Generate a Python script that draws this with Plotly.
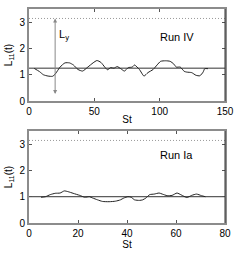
import plotly.graph_objects as go
from plotly.subplots import make_subplots

# Run IV (top panel)
st_iv = [4, 8, 11, 14.5, 18, 20, 23.75, 27.5, 31, 34, 37.5, 41, 45, 49, 52, 55, 58, 60, 62.5, 65, 67.5,
         70.5, 73, 76, 79, 80.75, 84.5, 88, 91, 95, 98, 100.75, 104.5, 108, 110.75, 112.75, 115.75,
         118.75, 120.75, 124.5, 127.75, 130.75, 133.25, 134.5, 137]
l_iv = [1.24, 1.12, 1.0, 0.95, 0.94, 1.02, 1.29, 1.45, 1.45, 1.37, 1.20, 1.14, 1.29, 1.45, 1.54, 1.47,
        1.29, 1.19, 1.27, 1.25, 1.31, 1.22, 1.14, 1.27, 1.29, 1.37, 1.20, 0.95, 1.08, 1.20, 1.37, 1.51,
        1.53, 1.51, 1.41, 1.29, 1.29, 1.13, 1.10, 1.08, 0.98, 0.96, 1.10, 1.23, 1.23]
mean_iv = 1.25

# Run Ia (bottom panel)
st_ia = [4.9, 6.7, 8.7, 10.7, 12.7, 14.4, 16, 18, 20.7, 22.7, 24.7, 26, 28, 30, 32.7, 35.3, 37.3,
         38.7, 40.4, 41.7, 43.1, 45.1, 46.4, 47.7, 49.3, 51.1, 53.1, 54.4, 56.4, 58.4, 60.4, 62.1,
         64.4, 66.4, 68.4, 70.4, 72]
l_ia = [0.98, 1.0, 1.08, 1.13, 1.14, 1.22, 1.19, 1.13, 1.05, 0.98, 1.0, 0.95, 0.88, 0.82, 0.81, 0.83,
        0.88, 0.95, 1.0, 0.98, 0.88, 0.86, 0.88, 0.95, 1.08, 1.10, 1.14, 1.10, 1.04, 1.05, 1.14, 1.07,
        0.97, 1.05, 1.10, 1.04, 1.0]
mean_ia = 1.0

pi_level = 3.14
x_ticks_iv = [0, 50, 100, 150]
x_ticks_ia = [0, 20, 40, 60, 80]
y_ticks = [0, 1, 2, 3]
ly_x = 20

FONT = "Liberation Sans, Arial, Helvetica, sans-serif"
frame = "#8c8c8c"
curve = "#222222"

fig = make_subplots(rows=2, cols=1, vertical_spacing=0.14)

fig.add_trace(go.Scatter(x=[0, 150], y=[pi_level, pi_level], mode="lines",
                         line=dict(color="#999999", width=1, dash="1px,2px")), row=1, col=1)
fig.add_trace(go.Scatter(x=[0, 150], y=[mean_iv, mean_iv], mode="lines",
                         line=dict(color="#333333", width=1)), row=1, col=1)
fig.add_trace(go.Scatter(x=st_iv, y=l_iv, mode="lines", line=dict(color=curve, width=1,
                         shape="spline", smoothing=0.6)), row=1, col=1)

fig.add_trace(go.Scatter(x=[0, 80], y=[pi_level, pi_level], mode="lines",
                         line=dict(color="#999999", width=1, dash="1px,2px")), row=2, col=1)
fig.add_trace(go.Scatter(x=[0, 80], y=[mean_ia, mean_ia], mode="lines",
                         line=dict(color="#333333", width=1)), row=2, col=1)
fig.add_trace(go.Scatter(x=st_ia, y=l_ia, mode="lines", line=dict(color=curve, width=1,
                         shape="spline", smoothing=0.6)), row=2, col=1)

axis_common = dict(showline=True, linecolor=frame, linewidth=2, mirror="ticks",
                   ticks="inside", ticklen=3, tickcolor="#555555", showgrid=False,
                   zeroline=False, tickfont=dict(family=FONT, size=10, color="black"))

fig.update_xaxes(range=[0, 150], tickvals=x_ticks_iv, row=1, col=1, **axis_common)
fig.update_xaxes(range=[0, 80], tickvals=x_ticks_ia, row=2, col=1, **axis_common)
for r in (1, 2):
    fig.update_xaxes(title=dict(text="St", standoff=0, font=dict(family=FONT, size=10, color="black")),
                     row=r, col=1)
    fig.update_yaxes(range=[0, 3.5], tickvals=y_ticks, row=r, col=1,
                     title=dict(text="L<sub>11</sub>(t)", standoff=5,
                                font=dict(family=FONT, size=10, color="black")),
                     **axis_common)

fig.update_layout(
    width=241, height=253,
    margin=dict(l=29, r=12, t=7, b=25),
    paper_bgcolor="white", plot_bgcolor="white",
    showlegend=False,
    font=dict(family=FONT, size=10, color="black"),
)
fig.layout.yaxis.domain = [0.57, 1.0]
fig.layout.yaxis2.domain = [0.0, 0.43]

# right border darker
for xr, yr in (("x domain", "y domain"), ("x2 domain", "y2 domain")):
    fig.add_shape(type="line", xref=xr, yref=yr, x0=1, x1=1, y0=0, y1=1,
                  line=dict(color="#333333", width=1))

# double-headed arrow L_y
fig.add_annotation(x=ly_x, y=pi_level, ax=ly_x, ay=0, xref="x", yref="y", axref="x", ayref="y",
                   showarrow=True, arrowhead=2, arrowside="end+start", arrowsize=0.8,
                   arrowwidth=1, arrowcolor="#888888", text=" ")
fig.add_annotation(x=21.5, y=2.5, xref="x", yref="y", text="L<sub>y</sub>", showarrow=False,
                   xanchor="left", font=dict(family=FONT, size=11, color="black"))
fig.add_annotation(x=113, y=2.45, xref="x", yref="y", text="Run IV", showarrow=False,
                   font=dict(family=FONT, size=11, color="black"))
fig.add_annotation(x=60.4, y=2.6, xref="x2", yref="y2", text="Run Ia", showarrow=False,
                   font=dict(family=FONT, size=11, color="black"))

fig.write_html("out.html", config={"displayModeBar": False},
               post_script="document.body.style.margin='0';")
